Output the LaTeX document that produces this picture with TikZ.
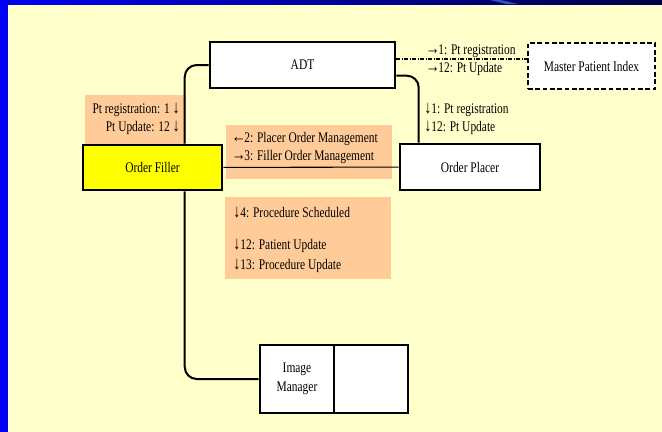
\documentclass[tikz,border=0pt]{standalone}
\usepackage{fontspec}
\setmainfont[FakeStretch=0.78]{Liberation Serif}
\newfontfamily\arrowfont[Scale=1.25,FakeStretch=0.78]{Liberation Serif}
\newcommand\arw[1]{{\arrowfont #1}}
\newcommand\arh[1]{{\arrowfont\kern-1.2pt #1\kern-1.2pt}}
\usepackage{xcolor}
\definecolor{slideCream}{HTML}{FFFFCC}
\definecolor{slideBlue}{HTML}{0000F2}
\definecolor{slideNavy}{HTML}{000046}
\definecolor{slideStreak}{HTML}{2E55B8}
\definecolor{noteSalmon}{HTML}{FFCC99}
\definecolor{fillerYellow}{HTML}{FFFF00}
\usetikzlibrary{
    positioning,
    calc
}
\tikzset{
    % Base style for all texts
    slide base/.style={
        font=\fontsize{11}{13.5}\selectfont,
        text=black,
    },
    % Actor boxes - plain white rectangles
    actor/.style={
        slide base,
        rectangle,
        draw=black,
        line width=1.9pt,
        fill=white,
        align=center,
        inner sep=2pt,
    },
    % Grouped actor - dashed border
    actor dashed/.style={
        actor,
        line width=1.3pt,
        dash pattern=on 3.5pt off 2pt,
    },
    % Transaction notes - salmon panels
    note/.style={
        rectangle,
        fill=noteSalmon,
        draw=none,
        inner sep=0pt,
    },
    % Message labels
    msg/.style={
        slide base,
        inner sep=0pt,
        anchor=west,
    },
    msg right/.style={
        msg,
        anchor=east,
    },
    % Connectors
    link/.style={
        draw=black,
        line width=1.5pt,
        rounded corners=9pt,
    },
    link thin/.style={
        draw=black,
        line width=0.8pt,
    },
    link dashdot/.style={
        draw=black,
        line width=1pt,
        dash pattern=on 3pt off 1pt on 1pt off 1pt,
    },
}

\begin{document}
\begin{tikzpicture}[x=0.75pt, y=-0.75pt]
    % slide frame
    \fill[slideCream] (0,0) rectangle (662,432);
    \useasboundingbox (0,0) rectangle (662,432);
    \shade[left color=slideBlue, right color=slideNavy] (0,0) rectangle (662,4);
    \fill[slideStreak] (490,0) -- (501,0) -- (518,4) -- (506,4) -- cycle;
    \fill[slideBlue] (0,0) rectangle (8,432);

    % notes
    \node (noteleft) [note, minimum width=75.75pt, minimum height=37.5pt] at (135.5,120) {};
    \node (notemid) [note, minimum width=124.5pt, minimum height=40.5pt] at (309,152) {};
    \node (notelow) [note, minimum width=124.5pt, minimum height=61.5pt] at (308,238) {};

    % actors
    \node (adt) [actor, minimum width=138.75pt, minimum height=34.5pt] at (302.5,65) {ADT};
    \node (mpi) [actor dashed, minimum width=95.25pt, minimum height=34.5pt] at (591.5,66) {Master Patient Index};
    \node (filler) [actor, fill=fillerYellow, minimum width=104.25pt, minimum height=33.75pt] at (152.5,167.5) {Order Filler};
    \node (placer) [actor, minimum width=105pt, minimum height=34.5pt] at (470,167) {Order Placer};
    \node (image) [actor, minimum width=55.5pt, minimum height=51pt, inner sep=0pt] at (297,379) {Image\\[1pt]Manager};
    \node (imagerest) [actor, minimum width=55.5pt, minimum height=51pt, right=-1.9pt of image] {};

    % connectors
    \coordinate (adtout) at ([yshift=4.5pt]adt.east);
    \draw [link dashdot] (adtout) -- (adtout -| mpi.west);
    \draw [link] (adt.west) -| ($(filler.north west)+(103,0)$);
    \draw [link] ([yshift=-8pt]adt.east) -| ($(placer.north west)+(20,0)$);
    \draw [link thin] (filler) -- (placer);
    \draw [link] ($(filler.south west)+(103,0)$) |- (image.west);

    % messages
    \node (mpimsga) [msg] at (427,51) {\arh{→}1: Pt registration};
    \node (mpimsgb) [msg] at (427,69) {\arh{→}12: Pt Update};
    \node (fillmsga) [msg right] at (180,110) {Pt registration: 1 \arw{↓}};
    \node (fillmsgb) [msg right] at (180,128) {Pt Update: 12 \arw{↓}};
    \node (placemsga) [msg] at (424,110) {\arw{↓}1: Pt registration};
    \node (placemsgb) [msg] at (424,128) {\arw{↓}12: Pt Update};
    \node (ordermsga) [msg] at (233,139) {\arh{←}2: Placer Order Management};
    \node (ordermsgb) [msg] at (233,157) {\arh{→}3: Filler Order Management};
    \node (procmsga) [msg] at (233,213) {\arw{↓}4: Procedure Scheduled};
    \node (procmsgb) [msg] at (233,246) {\arw{↓}12: Patient Update};
    \node (procmsgc) [msg] at (233,266) {\arw{↓}13: Procedure Update};
\end{tikzpicture}
\end{document}
